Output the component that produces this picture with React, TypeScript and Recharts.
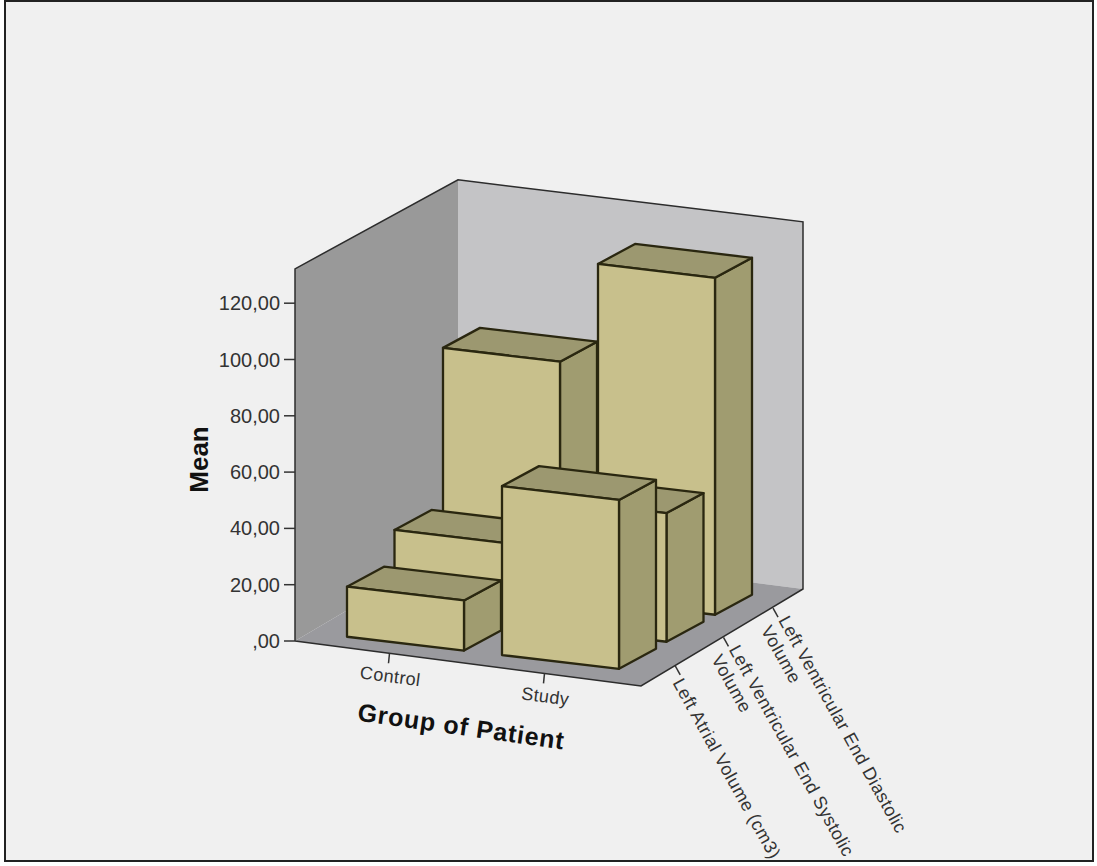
import React from "react";
import { BarChart, Bar, XAxis, YAxis, ReferenceArea } from "recharts";

const groups = ["Control", "Study"];
const leftAtrialVolume = [17.8, 60];
const leftVentricularEndSystolic = [28.3, 45.7];
const leftVentricularEndDiastolic = [83.4, 119.7];
const valueTicks = [0, 20, 40, 60, 80, 100, 120];
const depthLabels = [
  ["Left Atrial Volume (cm3)"],
  ["Left Ventricular End Systolic", "Volume"],
  ["Left Ventricular End Diastolic", "Volume"],
];

const rows = groups.map((group, i) => ({
  group,
  atrial: leftAtrialVolume[i],
  systolic: leftVentricularEndSystolic[i],
  diastolic: leftVentricularEndDiastolic[i],
}));

// oblique projection of the floor
const PLOT_LEFT = 295;
const SHEAR = 0.118;
const FLOOR_DX = 163;
const FLOOR_DY = -96;
const BOX_DX = 37;
const BOX_DY = -20;

// category axis padding; the room has to span it as well
const PAD_LEFT = 17;
const PAD_RIGHT = 19;

const FONT = "'Liberation Sans', Arial, sans-serif";
const EDGE = "#2a2710";

const shearOf = (x: number) => (x - PLOT_LEFT) * SHEAR;
const pts = (list: number[][]) => list.map((p) => p.join(",")).join(" ");

// one bar in 3D: the library's rectangle is the front face, sheared and pushed back
const makeBox = (dx: number, dy: number) => (props: any) => {
  const { x, y, width, height } = props;
  const l = x + dx;
  const r = l + width;
  const topL = y + shearOf(x) + dy;
  const topR = y + shearOf(x + width) + dy;
  const botL = topL + height;
  const botR = topR + height;
  const common = { stroke: EDGE, strokeWidth: 2.3, strokeLinejoin: "round" as const };
  return (
    <g>
      <polygon
        points={pts([[r, topR], [r + BOX_DX, topR + BOX_DY], [r + BOX_DX, botR + BOX_DY], [r, botR]])}
        fill="#a09c70"
        {...common}
      />
      <polygon
        points={pts([[l, topL], [l + BOX_DX, topL + BOX_DY], [r + BOX_DX, topR + BOX_DY], [r, topR]])}
        fill="#9c9870"
        {...common}
      />
      <polygon points={pts([[l, topL], [r, topR], [r, botR], [l, botL]])} fill="#c8c08c" {...common} />
    </g>
  );
};

// walls and floor, spanning the whole front plane of the plot
const Room = (props: any) => {
  const { y, height } = props;
  const x = props.x - PAD_LEFT;
  const width = props.width + PAD_LEFT + PAD_RIGHT;
  const r = x + width;
  const b = y + height;
  const bR = b + width * 0.13;
  const backL = x + FLOOR_DX;
  const backR = r + FLOOR_DX - 1;
  const backBL = b + FLOOR_DY;
  const backBR = bR + FLOOR_DY - 1;
  const backT = y - 89;
  const backTR = backT + 42;
  return (
    <g>
      <polygon points={pts([[backL, backT], [backR, backTR], [backR, backBR], [backL, backBL]])} fill="#c4c4c6" />
      <polygon points={pts([[x, y], [backL, backT], [backL, backBL], [x, b]])} fill="#999999" />
      <polygon points={pts([[x, b], [backL, backBL], [backR, backBR], [r, bR]])} fill="#9a9a9e" />
      <polyline
        points={pts([[x, b], [x, y], [backL, backT], [backR, backTR], [backR, backBR], [r, bR], [x, b]])}
        fill="none"
        stroke="#2c2c2c"
        strokeWidth={1.5}
      />
    </g>
  );
};

// ticks and slanted labels along the right floor edge
const DepthAxis = (props: any) => {
  const { y, height } = props;
  const width = props.width + PAD_LEFT + PAD_RIGHT;
  const cx = props.x - PAD_LEFT + width;
  const cy = y + height + width * 0.13;
  const stops = [0.21, 0.506, 0.81];
  return (
    <g fontFamily={FONT} fontSize={18} fill="#333">
      {depthLabels.map((lines, i) => {
        const px = cx + stops[i] * FLOOR_DX;
        const py = cy + stops[i] * FLOOR_DY;
        // two-line labels sit either side of their tick
        const sx = lines.length > 1 ? 5 : -3;
        const sy = lines.length > 1 ? 12 : 17;
        return (
          <g key={lines[0]}>
            <line x1={px} y1={py} x2={px + 5} y2={py + 9} stroke="#333" strokeWidth={1.5} />
            <g transform={`translate(${px + sx},${py + sy}) rotate(61)`}>
              {lines.map((line, j) => (
                <text key={line} x={0} y={j * 20} letterSpacing={0.5}>
                  {line}
                </text>
              ))}
            </g>
          </g>
        );
      })}
    </g>
  );
};

const GroupTick = (props: any) => {
  const { x, y, payload } = props;
  const top = y + (x - PLOT_LEFT) * 0.13 - 8;
  return (
    <g>
      <line x1={x} y1={top} x2={x - 1} y2={top + 10} stroke="#333" strokeWidth={1.5} />
      <text
        transform={`translate(${x},${top + 29}) rotate(7.5)`}
        textAnchor="middle"
        fontFamily={FONT}
        fontSize={18}
        letterSpacing={0.4}
        fill="#333"
      >
        {payload.value}
      </text>
    </g>
  );
};

const formatMean = (v: number) => v.toFixed(2).replace(".", ",").replace(/^0/, "");

const depthSeries = [
  { key: "diastolic", dx: 112, dy: -62.6 },
  { key: "systolic", dx: 63.5, dy: -35.6 },
  { key: "atrial", dx: 16, dy: -8.5 },
];

export default function App() {
  return (
    <div
      style={{
        position: "absolute",
        left: 6,
        top: 2,
        width: 1086,
        height: 858,
        background: "#f0f0f0",
        outline: "2px solid #222",
        overflow: "hidden",
      }}
    >
      <div style={{ position: "absolute", left: -6, top: -2 }}>
        <BarChart
          width={1097}
          height={866}
          data={rows}
          barSize={117}
          margin={{ left: 225, top: 268, right: 456, bottom: 217 }}
        >
          <XAxis
            xAxisId="atrial"
            dataKey="group"
            height={8}
            axisLine={false}
            tickLine={false}
            interval={0}
            padding={{ left: PAD_LEFT, right: PAD_RIGHT }}
            tick={<GroupTick />}
          />
          <XAxis xAxisId="systolic" dataKey="group" hide padding={{ left: PAD_LEFT, right: PAD_RIGHT }} />
          <XAxis xAxisId="diastolic" dataKey="group" hide padding={{ left: PAD_LEFT, right: PAD_RIGHT }} />
          <YAxis
            width={70}
            domain={[0, 132.5]}
            ticks={valueTicks}
            interval={0}
            tickFormatter={formatMean}
            tickSize={11}
            tickMargin={4}
            tickLine={{ stroke: "#333", strokeWidth: 1.5 }}
            axisLine={false}
            tick={{ fontFamily: FONT, fontSize: 20, fill: "#333" }}
            label={{
              value: "Mean",
              angle: -90,
              position: "insideLeft",
              offset: 0,
              dx: -26,
              dy: 5,
              style: { fontFamily: FONT, fontSize: 26, fontWeight: 700, fill: "#111", textAnchor: "middle" },
            }}
          />
          <ReferenceArea
            xAxisId="atrial"
            y1={0}
            y2={132.2}
            ifOverflow="visible"
            shape={(p: any) => (
              <>
                <Room {...p} />
                <DepthAxis {...p} />
              </>
            )}
          />
          {depthSeries.map((s) => (
            <Bar
              key={s.key}
              xAxisId={s.key}
              dataKey={s.key}
              isAnimationActive={false}
              shape={makeBox(s.dx, s.dy)}
            />
          ))}
          <text
            transform="translate(460,735) rotate(8)"
            textAnchor="middle"
            fontFamily={FONT}
            fontSize={25}
            fontWeight={700}
            letterSpacing={0.8}
            fill="#111"
          >
            Group of Patient
          </text>
        </BarChart>
      </div>
    </div>
  );
}
